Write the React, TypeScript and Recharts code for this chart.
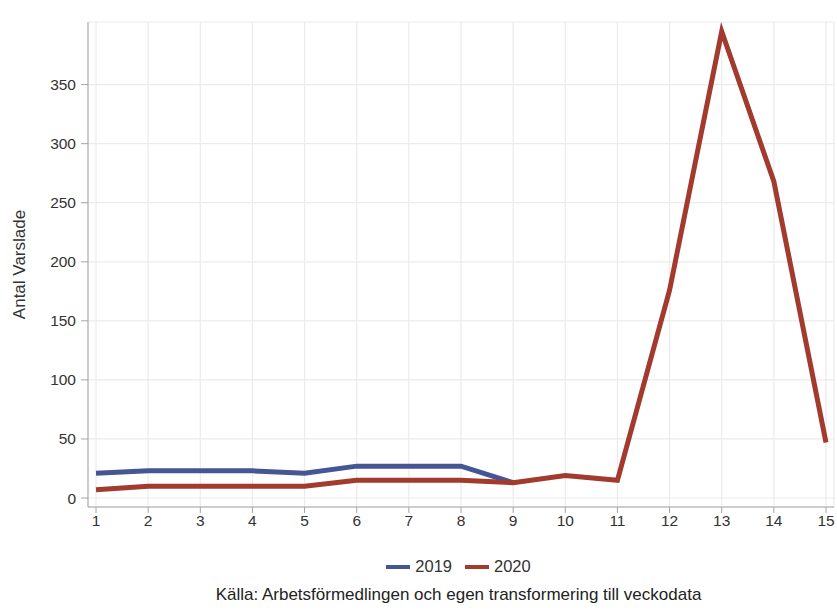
import { LineChart, Line, XAxis, YAxis, CartesianGrid } from 'recharts';

const weeks = [1, 2, 3, 4, 5, 6, 7, 8, 9, 10, 11, 12, 13, 14, 15];
const varsel2019 = [21, 23, 23, 23, 21, 27, 27, 27, 13];
const varsel2020 = [7, 10, 10, 10, 10, 15, 15, 15, 13, 19, 15, 176, 395, 268, 47];
const yTicks = [0, 50, 100, 150, 200, 250, 300, 350];

const series = [
  { key: 'v2019', name: '2019', color: '#445694', values: varsel2019 },
  { key: 'v2020', name: '2020', color: '#A23A2E', values: varsel2020 },
];

const FONT = '"Liberation Sans", Arial, sans-serif';

export default function App() {
  const data = weeks.map((week, i) => {
    const row: Record<string, number | null> = { week };
    series.forEach(s => {
      row[s.key] = i < s.values.length ? s.values[i] : null;
    });
    return row;
  });

  const tickStyle = { fontSize: 15.5, fill: '#333333', fontFamily: FONT };

  return (
    <div style={{ position: 'relative', width: 837, height: 615, fontFamily: FONT }}>
      <style>{'body{margin:0}'}</style>
      <LineChart
        width={837}
        height={615}
        data={data}
        margin={{ top: 22, right: 3, left: 0, bottom: 0 }}
      >
        <CartesianGrid stroke="#ebebeb" strokeWidth={1.2} />
        <XAxis
          dataKey="week"
          type="number"
          domain={[1, 15]}
          ticks={weeks}
          padding={{ left: 8, right: 8 }}
          height={108}
          tick={tickStyle}
          tickSize={6}
          tickMargin={2}
          stroke="#a0a5a8"
          interval={0}
        />
        <XAxis
          xAxisId="top"
          orientation="top"
          dataKey="week"
          type="number"
          domain={[1, 15]}
          height={0}
          tick={false}
          tickLine={false}
          stroke="#a0a5a8"
        />
        <YAxis
          type="number"
          domain={[-7.6, 403]}
          ticks={yTicks}
          allowDataOverflow
          width={88}
          tick={tickStyle}
          tickSize={7}
          tickMargin={5}
          stroke="#a0a5a8"
          label={{
            content: ({ viewBox }: any) => (
              <text
                x={viewBox.x + 19}
                y={viewBox.y + viewBox.height / 2}
                transform={`rotate(-90 ${viewBox.x + 19} ${viewBox.y + viewBox.height / 2})`}
                textAnchor="middle"
                dominantBaseline="central"
                fontSize={17}
                fill="#333333"
                fontFamily={FONT}
              >
                Antal Varslade
              </text>
            ),
          }}
        />
        <YAxis
          yAxisId="right"
          orientation="right"
          type="number"
          domain={[-7.6, 403]}
          width={0}
          tick={false}
          tickLine={false}
          stroke="#a0a5a8"
        />
        {series.map(s => (
          <Line
            key={s.key}
            dataKey={s.key}
            name={s.name}
            stroke={s.color}
            strokeWidth={5}
            dot={false}
            activeDot={false}
            isAnimationActive={false}
            connectNulls={false}
          />
        ))}
      </LineChart>
      <div
        style={{
          position: 'absolute',
          top: 557,
          left: 80,
          width: 757,
          display: 'flex',
          justifyContent: 'center',
          fontSize: 16.5,
          color: '#333333',
          gap: 13,
        }}
      >
        {series.map(s => (
          <div key={s.key} style={{ display: 'flex', alignItems: 'center', gap: 5 }}>
            <span style={{ display: 'inline-block', width: 24, height: 4, background: s.color }} />
            <span>{s.name}</span>
          </div>
        ))}
      </div>
      <div
        style={{
          position: 'absolute',
          top: 585,
          left: 80,
          width: 757,
          textAlign: 'center',
          fontSize: 17,
          color: '#222222',
        }}
      >
        Källa: Arbetsförmedlingen och egen transformering till veckodata
      </div>
    </div>
  );
}
